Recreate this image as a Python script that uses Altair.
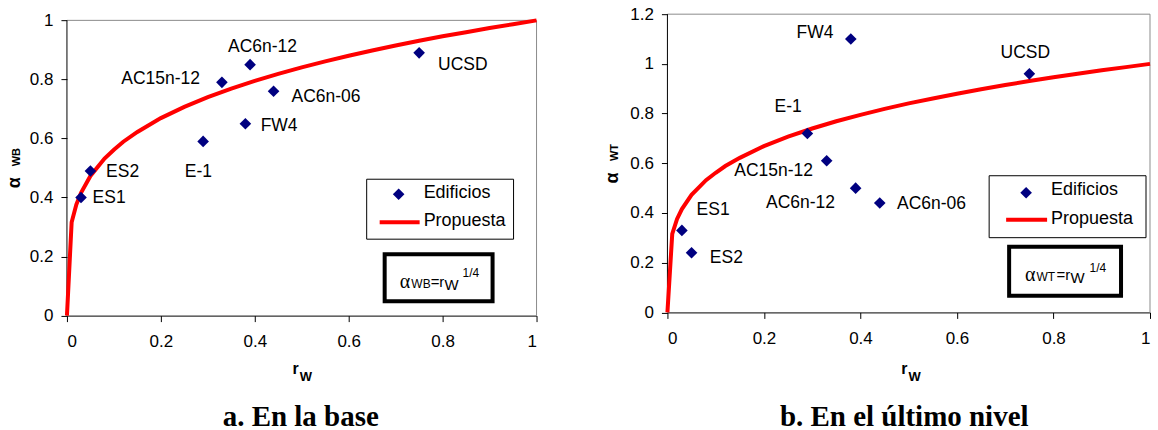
import altair as alt
import pandas as pd

# Buildings and their wall ratio r_W
edificios = ["ES1", "ES2", "E-1", "AC15n-12", "AC6n-12", "FW4", "AC6n-06", "UCSD"]
r_w = [0.03, 0.05, 0.29, 0.33, 0.39, 0.38, 0.44, 0.75]

# Measured coefficients at the base (WB) and at the top level (WT)
alpha_wb = [0.40, 0.49, 0.59, 0.79, 0.85, 0.65, 0.76, 0.89]
alpha_wt = [0.33, 0.24, 0.72, 0.61, 0.50, 1.10, 0.44, 0.96]

# Proposed curve alpha = r_W^(1/4), tabulated
curve_r = [0, 0.01, 0.02, 0.03, 0.05, 0.08, 0.1, 0.12, 0.15, 0.2, 0.25, 0.3, 0.35,
           0.4, 0.45, 0.5, 0.55, 0.6, 0.65, 0.7, 0.75, 0.8, 0.85, 0.9, 0.95, 1.0]
curve_a = [0, 0.316, 0.376, 0.416, 0.473, 0.532, 0.562, 0.589, 0.622, 0.669, 0.707,
           0.740, 0.769, 0.795, 0.819, 0.841, 0.861, 0.880, 0.898, 0.915, 0.931,
           0.946, 0.960, 0.974, 0.987, 1.0]

x_ticks = [0, 0.2, 0.4, 0.6, 0.8, 1]
y_ticks_wb = [0, 0.2, 0.4, 0.6, 0.8, 1]
y_ticks_wt = [0, 0.2, 0.4, 0.6, 0.8, 1, 1.2]

SANS = "Liberation Sans"
SERIF = "Liberation Serif"
NAVY = "#000080"
RED = "#ff0000"
FRAME = "#8c8c8c"

one = pd.DataFrame({"k": [0]})


def panel(alpha, y_top, y_dom, y_ticks, w, h, offsets, geo, sy=0.0):
    """One scatter panel; sy shifts the pixel-placed annotations vertically."""

    def note(text, x, y, size, font=SANS, weight="normal", align="left",
             baseline="alphabetic", angle=0):
        return alt.Chart(one).mark_text(
            text=text, font=font, fontSize=size, fontWeight=weight, align=align,
            baseline=baseline, angle=angle, color="black"
        ).encode(x=alt.value(x), y=alt.value(y + sy))

    def box(x0, x1, y0, y1, width):
        return alt.Chart(one).mark_rect(
            fill="white", stroke="black", strokeWidth=width
        ).encode(x=alt.value(x0), x2=alt.value(x1),
                 y=alt.value(y0 + sy), y2=alt.value(y1 + sy))

    pts = pd.DataFrame({"edificio": edificios, "rw": r_w, "alpha": alpha})
    crv = pd.DataFrame({"rw": curve_r, "alpha": curve_a})
    xs = alt.Scale(domain=[0, 1], nice=False, zero=True)
    ys = alt.Scale(domain=[0, y_dom], nice=False, zero=True)
    x_enc = alt.X("rw:Q", scale=xs,
                  axis=alt.Axis(values=x_ticks, format="~g", title=None, labelPadding=12))
    y_enc = alt.Y("alpha:Q", scale=ys,
                  axis=alt.Axis(values=y_ticks, format="~g", title=None, labelPadding=8,
                                domain=False))

    # plot frame: grey top/right edges, black left axis line
    frame = pd.DataFrame({
        "rw": [0, 1, 0], "rw2": [1, 1, 0],
        "alpha": [y_top, 0, 0], "alpha2": [y_top, y_top, y_top],
        "c": ["g", "g", "k"],
    })
    layers = [alt.Chart(frame).mark_rule(strokeWidth=1).encode(
        x=x_enc, x2="rw2:Q", y=y_enc, y2="alpha2:Q",
        color=alt.Color("c:N", scale=alt.Scale(domain=["g", "k"], range=[FRAME, "black"]),
                        legend=None),
    )]

    layers.append(alt.Chart(crv).mark_line(color=RED, strokeWidth=4).encode(x=x_enc, y=y_enc))
    layers.append(alt.Chart(pts).mark_point(
        shape="diamond", filled=True, color=NAVY, size=135, opacity=1
    ).encode(x=x_enc, y=y_enc))
    for name, (al, dx, dy) in offsets.items():
        layers.append(alt.Chart(pts).transform_filter(alt.datum.edificio == name).mark_text(
            align=al, baseline="middle", dx=dx, dy=dy, font=SANS, fontSize=17.5, color="black"
        ).encode(x=x_enc, y=y_enc, text="edificio:N"))

    # legend
    lx0, lx1, ly0, ly1 = geo["legend"]
    layers.append(box(lx0, lx1, ly0, ly1, 1))
    dxm, dym = geo["leg_diamond"]
    layers.append(alt.Chart(one).mark_point(
        shape="diamond", filled=True, color=NAVY, size=135, opacity=1
    ).encode(x=alt.value(dxm), y=alt.value(dym + sy)))
    sx0, sx1, sly = geo["leg_line"]
    layers.append(alt.Chart(one).mark_rule(color=RED, strokeWidth=4).encode(
        x=alt.value(sx0), x2=alt.value(sx1), y=alt.value(sly + sy)))
    tx, ty1, ty2 = geo["leg_text"]
    layers.append(note("Edificios", tx, ty1, 18, baseline="middle"))
    layers.append(note("Propuesta", tx, ty2, 18, baseline="middle"))

    # formula box
    fx0, fx1, fy0, fy1 = geo["formula"]
    layers.append(box(fx0, fx1, fy0, fy1, 4))
    f = geo["f_text"]
    layers.append(note("α", f["a"][0], f["a"][1], 20, font=SERIF))
    layers.append(note(geo["sub"], f["sub"][0], f["sub"][1], 12))
    layers.append(note("=r", f["eq"][0], f["eq"][1], 15))
    layers.append(note("W", f["w"][0], f["w"][1], 15))
    layers.append(note("1/4", f["p"][0], f["p"][1], 12))

    # axis titles with subscripts
    rx, ry, wx, wy = geo["xtitle"]
    layers.append(note("r", rx, ry, 16, weight="bold"))
    layers.append(note("W", wx, wy, 13, weight="bold"))
    ax_, ay_, sby = geo["ytitle"]
    layers.append(note("α", ax_, ay_, 18, weight="bold", angle=270))
    layers.append(note(geo["sub"], ax_, sby, 11, weight="bold", angle=270))

    # caption
    cx, cy = geo["caption_pos"]
    layers.append(note(geo["caption"], cx, cy, 29, font=SERIF, weight="bold", align="center"))

    return alt.layer(*layers).properties(width=w, height=h)


left_offsets = {
    "ES1": ("left", 11.6, 0),
    "ES2": ("left", 15.7, 1.4),
    "E-1": ("center", -4.7, 30.4),
    "AC15n-12": ("right", -22, -3.4),
    "AC6n-12": ("center", 12.5, -17.7),
    "FW4": ("left", 15.3, 2.3),
    "AC6n-06": ("left", 18, 6),
    "UCSD": ("left", 19, 12.5),
}
right_offsets = {
    "ES1": ("left", 14.7, -20),
    "ES2": ("left", 18.3, 5),
    "E-1": ("center", -19.3, -26),
    "AC15n-12": ("right", -13.7, 10.7),
    "AC6n-12": ("right", -20.6, 15),
    "FW4": ("right", -17.4, -5.7),
    "AC6n-06": ("left", 17.3, 0.7),
    "UCSD": ("center", -4, -21),
}

# pixel placements measured from the top-left corner of the y = 1 line (left)
left_geo = {
    "legend": (300, 447, 159, 219),
    "leg_diamond": (332, 174),
    "leg_line": (313, 353, 202),
    "leg_text": (357, 173, 201),
    "formula": (318, 426, 234, 281),
    "f_text": {"a": (333, 268), "sub": (344.7, 268), "eq": (364, 267),
               "w": (378, 269.5), "p": (396, 257)},
    "sub": "WB",
    "xtitle": (225.7, 354.3, 233, 361),
    "ytitle": (-47, 168, 146),
    "caption": "a. En la base",
    "caption_pos": (234, 406),
}
right_geo = {
    "legend": (322, 479, 161.7, 223.7),
    "leg_diamond": (359, 178.7),
    "leg_line": (339, 380, 205.7),
    "leg_text": (384, 176, 205.5),
    "formula": (342, 454, 232.7, 281.7),
    "f_text": {"a": (358, 267.4), "sub": (369.3, 267.4), "eq": (389.5, 266.5),
               "w": (403.5, 269), "p": (422.5, 258.4)},
    "sub": "WT",
    "xtitle": (234, 360, 241.3, 366.7),
    "ytitle": (-49, 169.4, 147),
    "caption": "b. En el último nivel",
    "caption_pos": (237, 411.7),
}

# the left plot area starts 6.2 px above its y = 1 line
left = panel(alpha_wb, 1, 301.7 / 295.5, y_ticks_wb, 470, 301.7, left_offsets, left_geo, sy=6.2)
right = panel(alpha_wt, 1.2, 1.2, y_ticks_wt, 483, 298.5, right_offsets, right_geo)

chart = alt.hconcat(left, right, spacing=60).properties(
    padding={"left": 6, "top": 5, "right": 0, "bottom": 0},
    background="white",
).configure_view(
    stroke=None
).configure_axis(
    labelFont=SANS, labelFontSize=17, labelColor="black",
    tickColor="black", domainColor="black", tickSize=6, grid=False,
    domainWidth=1, tickWidth=1,
)

chart.save("out.html", embed_options={"renderer": "svg", "actions": False})
